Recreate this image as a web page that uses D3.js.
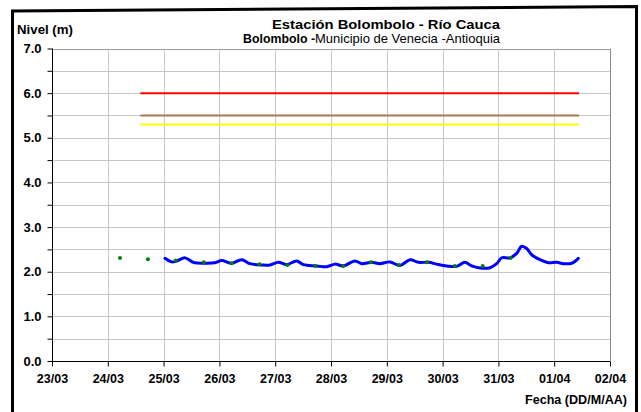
<!DOCTYPE html>
<html><head><meta charset="utf-8">
<script src="https://cdn.jsdelivr.net/npm/d3@7"></script>
<style>
body{margin:0;background:#fff;}
svg{display:block;font-family:"Liberation Sans",Arial,sans-serif;}
</style></head>
<body><svg id="c" width="641" height="412"></svg>
<script>
// ---- data ----
const xTickLabels = ["23/03","24/03","25/03","26/03","27/03","28/03","29/03","30/03","31/03","01/04","02/04"];
const yTickLabels = ["0.0","1.0","2.0","3.0","4.0","5.0","6.0","7.0"];
const levelTimes = ["25/03 00:36","25/03 03:29","25/03 05:38","25/03 09:13","25/03 12:46","25/03 17:48","25/03 22:06",
 "26/03 00:59","26/03 05:18","26/03 09:36","26/03 13:09","26/03 18:12","26/03 21:46",
 "27/03 01:21","27/03 04:57","27/03 09:14","27/03 12:06","27/03 17:51","27/03 22:09",
 "28/03 01:44","28/03 05:17","28/03 10:19","28/03 13:12","28/03 17:30","28/03 21:04",
 "29/03 01:22","29/03 05:41","29/03 09:59","29/03 13:34","29/03 18:02","29/03 21:27",
 "30/03 01:45","30/03 06:04","30/03 09:37","30/03 12:30","30/03 16:49","30/03 20:23","30/03 23:16",
 "31/03 01:25","31/03 04:59","31/03 07:52","31/03 10:01","31/03 12:10","31/03 14:19","31/03 17:54","31/03 21:27",
 "01/04 01:05","01/04 03:56","01/04 07:32","01/04 10:22"];
const levelValues = [2.30,2.22,2.24,2.31,2.21,2.19,2.20,
 2.25,2.19,2.27,2.18,2.15,2.15,
 2.21,2.16,2.24,2.16,2.13,2.11,
 2.17,2.13,2.24,2.18,2.21,2.18,
 2.22,2.14,2.27,2.21,2.21,2.17,
 2.13,2.12,2.21,2.13,2.08,2.09,2.18,
 2.31,2.31,2.41,2.57,2.52,2.38,2.27,2.20,
 2.21,2.18,2.19,2.30];
const readingTimes = ["24/03 05:15","24/03 17:15","25/03 05:15","25/03 17:15","26/03 05:15","26/03 17:15",
 "27/03 05:15","27/03 17:15","28/03 05:15","28/03 17:15","29/03 05:15","29/03 17:15",
 "30/03 05:15","30/03 17:15","31/03 05:15"];
const readingValues = [2.31,2.28,2.25,2.21,2.19,2.17,2.15,2.13,2.13,2.21,2.15,2.21,2.13,2.13,2.31];
const thresholdNames = ["roja","naranja","amarilla"];
const thresholdValues = [6.0,5.5,5.3];
const thresholdColors = ["#ff0000","#a47a4c","#ffff00"];
const thresholdSpan = ["24/03 14:00","01/04 10:40"];

// ---- drawing ----
const parse = d3.timeParse("%d/%m %H:%M");
const svg = d3.select("#c");
const m = {l:52, r:610, t:48.5, b:361};
const x = d3.scaleTime().domain([parse("23/03 00:00"), parse("02/04 00:00")]).range([m.l, m.r]);
const y = d3.scaleLinear().domain([0,7]).range([m.b, m.t]);

// outer frame
svg.append("path").attr("d","M12.5,413 L12.5,11 L636.5,6.5 L636.5,413")
  .attr("fill","none").attr("stroke","#000").attr("stroke-width",3);

// grid
const dayTicks = xTickLabels.map(s => parse(s+" 00:00"));
const halfTicks = d3.range(0,7.01,0.5);
svg.append("g").selectAll("line").data(halfTicks.filter(v=>v>0)).join("line")
  .attr("x1",m.l).attr("x2",m.r).attr("y1",d=>Math.round(y(d))+0.5).attr("y2",d=>Math.round(y(d))+0.5)
  .attr("stroke",d=>d===7?"#9a9a9a":"#c8c8c8").attr("stroke-width",1);
svg.append("g").selectAll("line").data(dayTicks.slice(1)).join("line")
  .attr("x1",d=>Math.round(x(d))+0.5).attr("x2",d=>Math.round(x(d))+0.5).attr("y1",m.t).attr("y2",m.b)
  .attr("stroke",(d,i)=>i===dayTicks.length-2?"#8a8a8a":"#c8c8c8").attr("stroke-width",1);

// axes
const yAxis = d3.axisLeft(y).tickValues(halfTicks).tickSize(5)
  .tickFormat(d => Number.isInteger(d) ? yTickLabels[d] : "");
const gy = svg.append("g").attr("transform",`translate(${m.l+0.5},0)`).call(yAxis);
gy.selectAll("text").attr("font-family","Liberation Sans, Arial").attr("font-size",13)
  .attr("font-weight","bold").attr("fill","#000").attr("x",-11);
gy.selectAll("line,path").attr("stroke","#000");
gy.select(".domain").attr("d",`M0,${m.t}V${m.b}`);

const xAxis = d3.axisBottom(x).tickValues(dayTicks).tickSize(5).tickFormat((d,i)=>xTickLabels[i]);
const gx = svg.append("g").attr("transform",`translate(0,${m.b+0.5})`).call(xAxis);
gx.selectAll("text").attr("font-family","Liberation Sans, Arial").attr("font-size",12.5)
  .attr("font-weight","bold").attr("fill","#000").attr("dy","1.05em");
gx.selectAll("line,path").attr("stroke","#000");
gx.select(".domain").attr("d",`M${m.l},0H${m.r}`);

// thresholds
svg.append("g").selectAll("line").data(thresholdValues).join("line")
  .attr("x1",x(parse(thresholdSpan[0]))).attr("x2",x(parse(thresholdSpan[1])))
  .attr("y1",d=>y(d)).attr("y2",d=>y(d))
  .attr("stroke",(d,i)=>thresholdColors[i]).attr("stroke-width",2);

// level line
const pts = levelTimes.map((t,i)=>[parse(t), levelValues[i]]);
svg.append("path").datum(pts)
  .attr("d", d3.line().x(d=>x(d[0])).y(d=>y(d[1])).curve(d3.curveCatmullRom.alpha(0.5)))
  .attr("fill","none").attr("stroke","#0000ff").attr("stroke-width",3)
  .attr("stroke-linejoin","round").attr("stroke-linecap","round");

// manual readings
svg.append("g").selectAll("circle").data(readingTimes).join("circle")
  .attr("cx",d=>x(parse(d))).attr("cy",(d,i)=>y(readingValues[i])).attr("r",2)
  .attr("fill","#008000");

// texts
svg.append("text").attr("x",17).attr("y",34).attr("font-size",13).attr("font-weight","bold")
  .attr("textLength",56).attr("lengthAdjust","spacingAndGlyphs").text("Nivel (m)");
svg.append("text").attr("x",272).attr("y",29).attr("font-size",13)
  .attr("font-weight","bold").attr("textLength",228).attr("lengthAdjust","spacingAndGlyphs")
  .text("Estación Bolombolo - Río Cauca");
const t2 = svg.append("text").attr("x",243).attr("y",43).attr("font-size",13);
t2.append("tspan").attr("font-weight","bold").attr("textLength",72).attr("lengthAdjust","spacingAndGlyphs").text("Bolombolo -");
t2.append("tspan").attr("textLength",185).attr("lengthAdjust","spacingAndGlyphs").text("Municipio de Venecia -Antioquia");
svg.append("text").attr("x",525).attr("y",404).attr("font-size",12.5)
  .attr("font-weight","bold").attr("textLength",102).attr("lengthAdjust","spacingAndGlyphs").text("Fecha (DD/M/AA)");
</script></body></html>
